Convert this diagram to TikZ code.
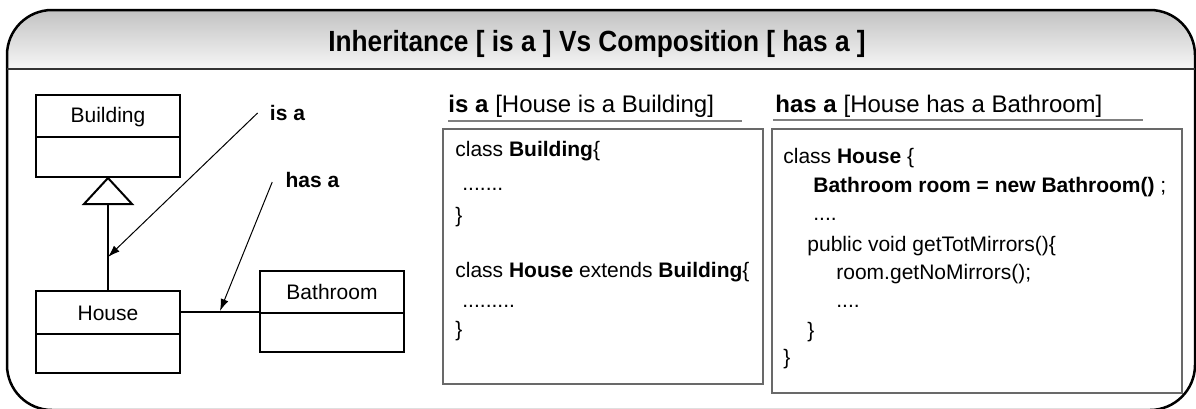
\documentclass[tikz,border=0pt]{standalone}
\usepackage{fontspec}
\usepackage{graphicx}
\setmainfont{Liberation Sans}
\usetikzlibrary{arrows.meta,calc}
\definecolor{bandtop}{RGB}{186,186,186}
\definecolor{bandbot}{RGB}{246,246,246}
\definecolor{boxgray}{RGB}{105,105,105}
\definecolor{linegray}{RGB}{128,128,128}
\begin{document}
\begin{tikzpicture}[x=0.5pt,y=-0.5pt,
  umlbox/.style={draw=black,line width=1pt,minimum width=72pt,inner sep=0pt},
  divline/.style={line width=1pt},
  lbl/.style={inner sep=0pt,font=\fontsize{10.5pt}{12pt}\selectfont},
  blbl/.style={inner sep=0pt,font=\bfseries\fontsize{10.5pt}{12pt}\selectfont},
  code/.style={anchor=base west,inner sep=0pt,font=\fontsize{10.5pt}{12pt}\selectfont},
  head/.style={anchor=base west,inner sep=0pt,font=\fontsize{12pt}{14pt}\selectfont},
  arr/.style={-{Latex[length=6pt,width=4pt]},line width=0.5pt},
  panel/.style={draw=boxgray,line width=0.75pt,inner sep=0pt},
  uline/.style={draw=linegray,line width=0.75pt}
]
\useasboundingbox (0,0) rectangle (1196,408);
% title band
\begin{scope}
\clip[rounded corners=22.5pt] (7,10) rectangle (1195,410);
\shade[top color=bandtop,bottom color=bandbot] (0,0) rectangle (1196,69);
\end{scope}
\draw[line width=1.25pt,rounded corners=22.5pt] (7,10) rectangle (1195,410);
\draw[line width=1pt,black!80] (7,69) -- (1195,69);
\node[anchor=base,inner sep=0pt,font=\bfseries\fontsize{14.6pt}{16pt}\selectfont] (title) at (597,51) {\scalebox{0.9}[1]{Inheritance [ is a ] Vs Composition [ has a ]}};

% UML
\node[umlbox,minimum height=41pt] (bld) at (108,136) {};
\node[lbl] (bldlbl) at (108,117) {Building};
\draw[divline] ($(bld.north west)+(0,43)$) -- ($(bld.north east)+(0,43)$);
\draw[line width=1pt,fill=white] (bld.south) -- ++(-24,26) -- ++(48,0) -- cycle;
\coordinate (tri) at ($(bld.south)+(0,26)$);

\node[umlbox,minimum height=41pt] (house) at (108,332) {};
\node[lbl] (houselbl) at (108,313) {House};
\draw[divline] ($(house.north west)+(0,44)$) -- ($(house.north east)+(0,44)$);
\draw[line width=1pt] (house.north) -- (tri);

\node[umlbox,minimum height=40.5pt] (bath) at (332,311.5) {};
\node[lbl] (bathlbl) at (332,292) {Bathroom};
\draw[divline] ($(bath.north west)+(0,43)$) -- ($(bath.north east)+(0,43)$);
\coordinate (conn) at (220,312);
\draw[line width=1pt] (house.east |- conn) -- (bath.west |- conn);

\node[blbl] (isa) at (287.5,113) {is a};
\coordinate (isatip) at (108,257);
\draw[arr] ([xshift=-6pt]isa.west) -- (isatip);
\node[blbl] (hasa) at (312.5,180) {has a};
\coordinate (hasatip) at (220,311);
\draw[arr] ([xshift=-6.5pt,yshift=-1pt]hasa.west) -- (hasatip);

% middle panel
\node[head] (ishead) at (448,112) {\textbf{is a} [House is a Building]};
\coordinate (isul) at (742,121);
\draw[uline] (ishead.west |- isul) -- (isul);
\node[panel,minimum width=160pt,minimum height=127.5pt] (isbox) at (603,256.5) {};
\node[code] (c1) at (455,156) {class \textbf{Building}\{};
\node[code] (c2) at (462,190) {.......};
\node[code] (c3) at (455,222) {\}};
\node[code] (c4) at (455,277) {class \textbf{House} extends \textbf{Building}\{};
\node[code] (c5) at (462,307) {.........};
\node[code] (c6) at (455,336) {\}};

% right panel
\node[head] (hashead) at (775,112) {\textbf{has a} [House has a Bathroom]};
\coordinate (hasul) at (1143,120);
\draw[uline] ([xshift=-1pt]hashead.west |- hasul) -- (hasul);
\node[panel,minimum width=205pt,minimum height=132pt] (hasbox) at (977,261) {};
\node[code] (d1) at (783,163) {class \textbf{House} \{};
\node[code] (d2) at (813,192) {\textbf{Bathroom room = new Bathroom()} ;};
\node[code] (d3) at (813,220) {....};
\node[code] (d4) at (807,251) {public void getTotMirrors()\{};
\node[code] (d5) at (836,279) {room.getNoMirrors();};
\node[code] (d6) at (836,307) {....};
\node[code] (d7) at (807,337) {\}};
\node[code] (d8) at (783,364) {\}};
\end{tikzpicture}
\end{document}
